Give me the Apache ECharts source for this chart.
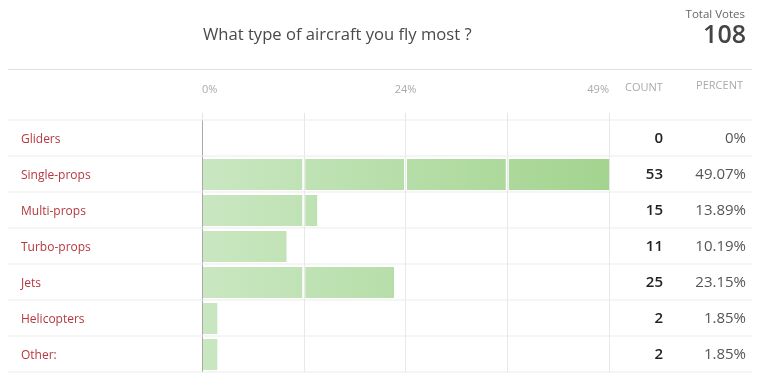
<!DOCTYPE html>
<html>
<head>
<meta charset="utf-8">
<script src="https://cdn.jsdelivr.net/npm/echarts@6/dist/echarts.min.js"></script>
<style>
html,body{margin:0;padding:0;background:#fff;}
#chart{width:761px;height:382px;}
</style>
</head>
<body>
<div id="chart"></div>
<script>
const titleText = 'What type of aircraft you fly most ?';
const totalLabel = 'Total Votes';
const totalVotes = 108;
const categories = ['Gliders', 'Single-props', 'Multi-props', 'Turbo-props', 'Jets', 'Helicopters', 'Other:'];
const counts = [0, 53, 15, 11, 25, 2, 2];
const percents = [0, 49.07, 13.89, 10.19, 23.15, 1.85, 1.85];
const columnHeaders = ['COUNT', 'PERCENT'];

const axisMax = Math.max.apply(null, percents);
const axisInterval = axisMax / 4;
const FONT = '"Open Sans", "Noto Sans", sans-serif';

const chart = echarts.init(document.getElementById('chart'), null, {renderer: 'canvas'});

function renderRow(params, api) {
  const idx = api.value(1);
  const val = api.value(0);
  const cnt = api.value(2);
  const pct = api.value(3);
  const p0 = api.coord([0, idx]);
  const pEnd = api.coord([val, idx]);
  const pMax = api.coord([axisMax, idx]);
  const h = api.size([0, 1])[1];
  const top = p0[1] - h / 2;
  const bottom = p0[1] + h / 2;
  const children = [];
  const grad = new echarts.graphic.LinearGradient(p0[0], 0, pMax[0], 0, [
    {offset: 0, color: '#c9e7c1'},
    {offset: 1, color: '#a3d48f'}
  ], true);
  const bounds = [p0[0] + 1];
  for (let k = 1; k < 4; k++) bounds.push(api.coord([k * axisInterval, idx])[0]);
  bounds.push(pMax[0]);
  if (val > 0) {
    for (let k = 0; k < 4; k++) {
      let a = k === 0 ? bounds[0] : bounds[k] + 1.5;
      let b = k === 3 ? bounds[4] : bounds[k + 1] - 1.5;
      b = Math.min(b, pEnd[0]);
      if (b > a) {
        children.push({
          type: 'rect',
          shape: {x: a, y: top + 3, width: b - a, height: h - 5},
          style: {fill: grad}
        });
      }
    }
  }
  children.push({
    type: 'line',
    shape: {x1: 8, y1: bottom, x2: 752, y2: bottom},
    style: {stroke: '#ebebeb', lineWidth: 1}
  });
  if (idx === 0) {
    children.push({
      type: 'line',
      shape: {x1: 8, y1: top, x2: 752, y2: top},
      style: {stroke: '#ebebeb', lineWidth: 1}
    });
  }
  children.push({
    type: 'text',
    style: {x: 21, y: p0[1] + 2, text: categories[idx], textAlign: 'left', textVerticalAlign: 'middle',
      fontFamily: FONT, fontSize: 12, fill: '#b5373f'}
  });
  children.push({
    type: 'text',
    style: {x: 663, y: p0[1] + 1, text: String(cnt), textAlign: 'right', textVerticalAlign: 'middle',
      fontFamily: FONT, fontSize: 15, fontWeight: 600, fill: '#222'}
  });
  children.push({
    type: 'text',
    style: {x: 746, y: p0[1] + 1, text: pct + '%', textAlign: 'right', textVerticalAlign: 'middle',
      fontFamily: FONT, fontSize: 15, fill: '#555'}
  });
  return {type: 'group', children: children};
}

const option = {
  animation: false,
  backgroundColor: '#fff',
  textStyle: {fontFamily: FONT},
  grid: {left: 202, right: 152, top: 120, bottom: 10, containLabel: false},
  xAxis: {
    type: 'value',
    position: 'top',
    min: 0,
    max: axisMax,
    interval: axisInterval,
    axisLine: {show: false},
    axisTick: {show: true, length: 7, inside: false, lineStyle: {color: '#e6e6e6'}},
    splitLine: {show: true, lineStyle: {color: '#e8e8e8', width: 1}},
    axisLabel: {
      margin: 25,
      color: '#aaa',
      fontSize: 11,
      fontFamily: FONT,
      alignMinLabel: 'left',
      alignMaxLabel: 'right',
      showMaxLabel: true,
      formatter: function (v, i) { return (i % 2 === 0) ? Math.floor(v) + '%' : ''; }
    }
  },
  yAxis: {
    type: 'category',
    inverse: true,
    data: categories,
    axisLine: {show: true, lineStyle: {color: '#aaa', width: 1}},
    axisTick: {show: false},
    splitLine: {show: false},
    axisLabel: {show: false}
  },
  series: [{
    type: 'custom',
    clip: false,
    renderItem: renderRow,
    encode: {x: 0, y: 1},
    data: categories.map(function (c, i) { return [percents[i], i, counts[i], percents[i] === 0 ? 0 : percents[i].toFixed(2)]; })
  }],
  graphic: [
    {type: 'text', left: 203, top: 27, style: {text: titleText, fontFamily: FONT, fontSize: 16.6, fill: '#4a4a4a'}},
    {type: 'text', right: 16, top: 9, style: {text: totalLabel, fontFamily: FONT, fontSize: 11.5, fill: '#666', textAlign: 'right'}},
    {type: 'text', right: 15, top: 23, style: {text: String(totalVotes), fontFamily: FONT, fontSize: 25, fontWeight: 600, fill: '#444', textAlign: 'right'}},
    {type: 'line', shape: {x1: 8, y1: 69.5, x2: 752, y2: 69.5}, style: {stroke: '#e0e0e0', lineWidth: 1}},
    {type: 'text', left: 625, top: 82, style: {text: columnHeaders[0], fontFamily: FONT, fontSize: 11, fill: '#aaa'}},
    {type: 'text', right: 18, top: 80, style: {text: columnHeaders[1], fontFamily: FONT, fontSize: 11, fill: '#aaa'}}
  ]
};
chart.setOption(option);
</script>
</body>
</html>
